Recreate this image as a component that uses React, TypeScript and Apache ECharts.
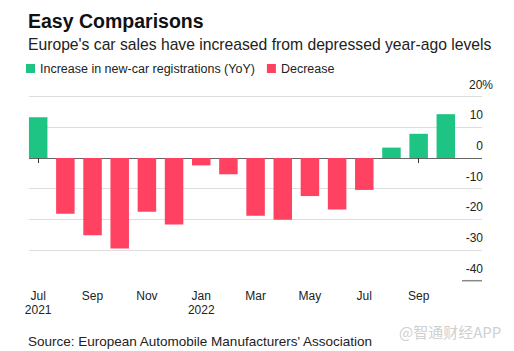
import React, { useEffect, useRef } from "react";
import * as echarts from "echarts";

const categories = [
  "Jul\n2021", "Aug", "Sep", "Oct", "Nov", "Dec",
  "Jan\n2022", "Feb", "Mar", "Apr", "May", "Jun",
  "Jul", "Aug", "Sep", "Oct",
];
const yoyChange = [
  13.3, -18.2, -25.2, -29.5, -17.5, -21.7,
  -2.4, -5.3, -18.8, -20.1, -12.4, -16.8,
  -10.4, 3.4, 7.9, 14.3,
];
const yTicks = [-40, -30, -20, -10, 0, 10, 20];

const GREEN = "#1dc483";
const RED = "#ff4262";
const FONT = "'Liberation Sans', Arial, sans-serif";

export default function App() {
  const ref = useRef<HTMLDivElement>(null);
  useEffect(() => {
    if (!ref.current) return;
    const chart = echarts.init(ref.current, undefined, { renderer: "svg" });
    const increase = yoyChange.map((v) => (v >= 0 ? v : null));
    const decrease = yoyChange.map((v) => (v < 0 ? v : null));
    const top = 96.7;
    const bottom = 351 - 280.7;
    const splitColors = yTicks.map((t) =>
      t === yTicks[0] ? "rgba(0,0,0,0)" : t === 0 ? "#666666" : "#dddddd"
    );
    chart.setOption({
      animation: false,
      textStyle: { fontFamily: FONT },
      title: [
        {
          text: "Easy Comparisons",
          left: 23,
          top: 6,
          textStyle: { fontSize: 19.5, fontWeight: "bold", color: "#111", fontFamily: FONT },
        },
        {
          text: "Europe's car sales have increased from depressed year-ago levels",
          left: 23,
          top: 31,
          textStyle: { fontSize: 15.7, fontWeight: "normal", color: "#222", fontFamily: FONT },
        },
        {
          text: "Source: European Automobile Manufacturers' Association",
          left: 23,
          top: 329,
          textStyle: { fontSize: 13.5, fontWeight: "normal", color: "#222", fontFamily: FONT },
        },
        {
          text: "@智通财经APP",
          left: 394,
          top: 319,
          textStyle: {
            fontSize: 15,
            fontWeight: "normal",
            color: "#d0d0d0",
            fontFamily: "'Noto Sans CJK SC', sans-serif",
          },
        },
      ],
      legend: {
        left: 21,
        top: 57,
        icon: "rect",
        itemWidth: 9,
        itemHeight: 9,
        itemGap: 12,
        textStyle: { fontSize: 12.5, color: "#222", fontFamily: FONT },
        data: ["Increase in new-car registrations (YoY)", "Decrease"],
      },
      grid: [
        { left: 29, right: 514 - 482, top, bottom },
        { left: 24.6, right: 514 - 459.4, top, bottom },
      ],
      xAxis: [
        { type: "value", gridIndex: 0, min: 0, max: 1, show: false },
        {
          type: "category",
          gridIndex: 1,
          data: categories,
          axisLine: { show: false },
          axisTick: {
            show: true,
            alignWithLabel: true,
            interval: 1,
            length: 5,
            lineStyle: { color: "#333" },
          },
          axisLabel: {
            interval: 1,
            fontSize: 12,
            lineHeight: 14,
            margin: 8,
            color: "#222",
            fontFamily: FONT,
          },
        },
      ],
      yAxis: [
        {
          type: "value",
          gridIndex: 0,
          position: "right",
          min: -40,
          max: 20,
          interval: 10,
          axisLine: { show: false },
          axisTick: { show: false },
          splitLine: { show: true, lineStyle: { color: splitColors, width: 1 } },
          axisLabel: {
            inside: false,
            margin: 11,
            align: "right",
            verticalAlign: "bottom",
            padding: [0, 0, 6, 0],
            fontSize: 12,
            color: "#222",
            fontFamily: FONT,
            formatter: (v: number) => (v === 20 ? `{n|${v}}{p|%}` : `{n|${v}}{h| }`),
            rich: {
              n: { fontSize: 12, color: "#222", fontFamily: FONT },
              p: { fontSize: 12, color: "#222", fontFamily: FONT },
              h: { fontSize: 12, width: 10, fontFamily: FONT },
            },
          },
        },
        {
          type: "value",
          gridIndex: 1,
          min: -40,
          max: 20,
          interval: 10,
          show: false,
          splitLine: { show: false },
        },
      ],
      graphic: [
        {
          type: "line",
          shape: { x1: 462, y1: 280.7, x2: 482, y2: 280.7 },
          style: { stroke: "#888", lineWidth: 1.5 },
        },
      ],
      series: [
        {
          name: "Increase in new-car registrations (YoY)",
          type: "bar",
          xAxisIndex: 1,
          yAxisIndex: 1,
          stack: "v",
          barWidth: 18.5,
          itemStyle: { color: GREEN },
          data: increase,
        },
        {
          name: "Decrease",
          type: "bar",
          xAxisIndex: 1,
          yAxisIndex: 1,
          stack: "v",
          barWidth: 18.5,
          itemStyle: { color: RED },
          data: decrease,
        },
      ],
    });
    return () => chart.dispose();
  }, []);
  return (
    <div
      ref={ref}
      style={{ position: "fixed", left: 0, top: 0, width: 514, height: 351, background: "#fff" }}
    />
  );
}
